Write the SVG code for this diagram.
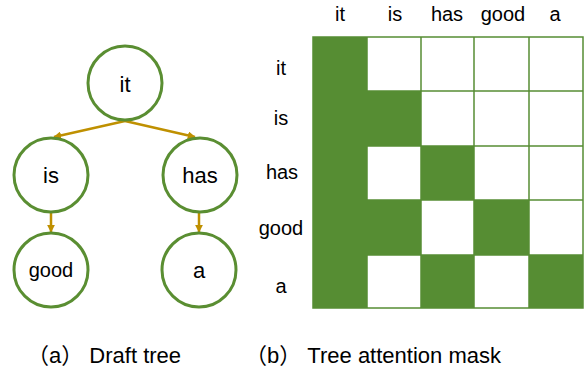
<svg xmlns="http://www.w3.org/2000/svg" width="587" height="372" viewBox="0 0 587 372">
<defs>
<marker id="ah" viewBox="0 0 10 10" refX="9" refY="5" markerWidth="3.2" markerHeight="3.2" orient="auto" markerUnits="strokeWidth">
<path d="M0,0 L10,5 L0,10 z" fill="#BF9000"/>
</marker>
</defs>
<style>
.node{fill:#fff;stroke:#5A8E32;stroke-width:3}
.t{font-family:"Liberation Sans",Arial,sans-serif;fill:#000;text-anchor:middle}
.nt{font-size:22px}
.lb{font-size:20px}
.cap{font-family:"Liberation Sans","Noto Sans CJK SC",sans-serif;font-size:22px;fill:#000}
.edge{stroke:#BF9000;stroke-width:2.5;fill:none;marker-end:url(#ah)}
.on{fill:#568D33}
.off{fill:#fff;stroke:#568D33;stroke-width:1.5}
</style>
<rect width="587" height="372" fill="#fff"/>
<g id="connectors">
<line class="edge" x1="125" y1="121" x2="54" y2="137"/>
<line class="edge" x1="125" y1="121" x2="195" y2="137"/>
<line class="edge" x1="51" y1="212" x2="51" y2="232"/>
<line class="edge" x1="199" y1="212" x2="199" y2="232"/>
</g>
<g id="node-it"><circle class="node" cx="125" cy="83" r="37"/><text class="t nt" x="125" y="92">it</text></g>
<g id="node-is"><circle class="node" cx="51" cy="175" r="37"/><text class="t nt" x="51" y="183">is</text></g>
<g id="node-has"><circle class="node" cx="200" cy="175" r="37"/><text class="t nt" x="200" y="183">has</text></g>
<g id="node-good"><circle class="node" cx="51" cy="270" r="37"/><text class="t lb" x="51" y="277">good</text></g>
<g id="node-a"><circle class="node" cx="199" cy="270" r="37"/><text class="t nt" x="199" y="278">a</text></g>
<g id="mask">
<rect class="off" x="313" y="37" width="270" height="271"/>
<g stroke="#568D33" stroke-width="1.5">
<line x1="367" y1="37" x2="367" y2="308"/><line x1="421" y1="37" x2="421" y2="308"/><line x1="474" y1="37" x2="474" y2="308"/><line x1="529" y1="37" x2="529" y2="308"/>
<line x1="313" y1="91" x2="583" y2="91"/><line x1="313" y1="146" x2="583" y2="146"/><line x1="313" y1="200" x2="583" y2="200"/><line x1="313" y1="255" x2="583" y2="255"/>
</g>
<rect class="on" x="313" y="37" width="54" height="271"/>
<rect class="on" x="366" y="91" width="55" height="55"/>
<rect class="on" x="421" y="146" width="53" height="54"/>
<rect class="on" x="366" y="200" width="55" height="55"/>
<rect class="on" x="474" y="200" width="55" height="55"/>
<rect class="on" x="421" y="255" width="53" height="53"/>
<rect class="on" x="529" y="255" width="54" height="53"/>
</g>
<g id="col-labels">
<text class="t lb" x="340" y="21">it</text>
<text class="t lb" x="395" y="21">is</text>
<text class="t lb" x="447" y="21">has</text>
<text class="t lb" x="503" y="21">good</text>
<text class="t lb" x="555" y="21">a</text>
</g>
<g id="row-labels">
<text class="t lb" x="281" y="75">it</text>
<text class="t lb" x="281" y="125">is</text>
<text class="t lb" x="282" y="179">has</text>
<text class="t lb" x="281" y="235">good</text>
<text class="t lb" x="281" y="293">a</text>
</g>
<text class="cap" x="27" y="363">（a） Draft tree</text>
<text class="cap" x="245" y="363">（b） Tree attention mask</text>
</svg>
